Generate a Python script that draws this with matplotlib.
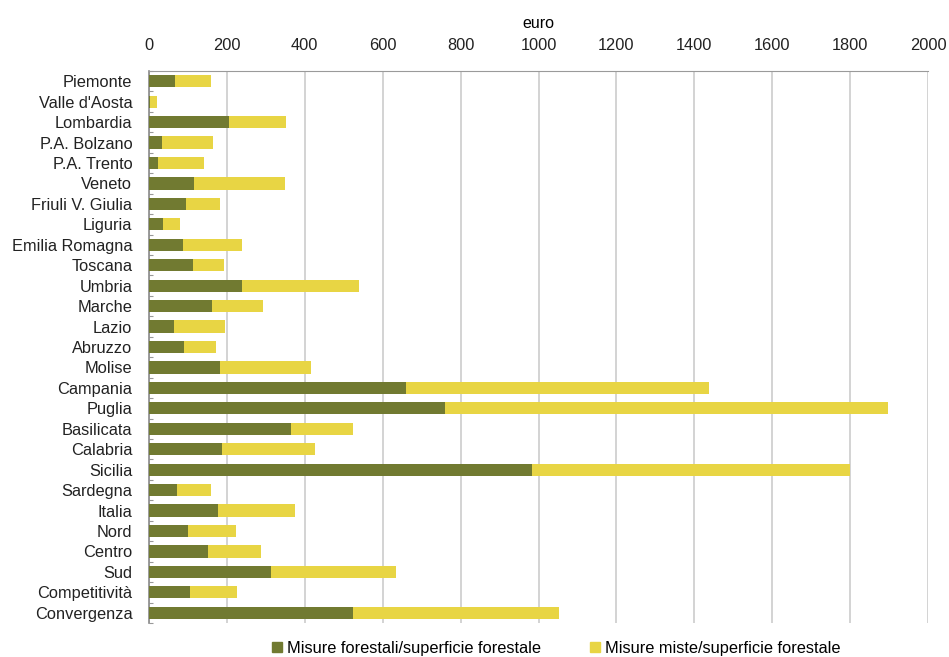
import numpy as np
import matplotlib
matplotlib.use("Agg")
import matplotlib.pyplot as plt
from matplotlib.patches import Patch

plt.rcParams["font.family"] = ["Liberation Sans", "DejaVu Sans"]

regioni = ["Piemonte", "Valle d'Aosta", "Lombardia", "P.A. Bolzano", "P.A. Trento",
           "Veneto", "Friuli V. Giulia", "Liguria", "Emilia Romagna", "Toscana",
           "Umbria", "Marche", "Lazio", "Abruzzo", "Molise", "Campania", "Puglia",
           "Basilicata", "Calabria", "Sicilia", "Sardegna", "Italia", "Nord",
           "Centro", "Sud", "Competitività", "Convergenza"]
# euro per ettaro di superficie forestale
forestali = [68, 2, 205, 34, 23, 115, 94, 37, 87, 112,
             239, 162, 64, 89, 182, 661, 759, 364, 188, 984,
             71, 177, 101, 152, 312, 105, 524]
totale = [158, 21, 351, 165, 140, 349, 182, 79, 239, 193,
          539, 293, 195, 172, 415, 1437, 1897, 524, 425, 1799,
          159, 374, 223, 287, 635, 226, 1053]
miste = [t - f for t, f in zip(totale, forestali)]

GREEN, YELLOW = "#717a31", "#e8d544"

fig = plt.figure(figsize=(9.49, 6.57), dpi=100)
ax = fig.add_axes([149 / 949, 1 - 623 / 657, (928 - 149) / 949, (623 - 71) / 657])

y = np.arange(len(regioni))
ax.barh(y, forestali, height=0.6, color=GREEN, zorder=3)
ax.barh(y, miste, left=forestali, height=0.6, color=YELLOW, zorder=3)

ax.set_xlim(0, 2000)
ax.set_ylim(len(regioni) - 0.5, -0.5)
ax.set_xticks(np.arange(0, 2001, 200))
ax.xaxis.tick_top()
ax.xaxis.set_label_position("top")
ax.set_xlabel("euro", fontsize=11.5, labelpad=7)
ax.tick_params(axis="x", length=0, pad=13, labelsize=11.8, colors="#222222")
ax.set_yticks(y)
ax.set_yticklabels(regioni)
ax.tick_params(axis="y", which="major", length=0, pad=12, labelsize=11.8, colors="#222222")
ax.set_yticks(np.arange(-0.5, len(regioni), 1), minor=True)
ax.tick_params(axis="y", which="minor", direction="in", length=3, width=0.8, color="#999999")

ax.grid(axis="x", color="#d3d3d3", linewidth=1.4, zorder=0)
for s in ["right", "bottom"]:
    ax.spines[s].set_visible(False)
ax.spines["top"].set_color("#9a9a9a")
ax.spines["left"].set_color("#8a8a8a")
ax.spines["left"].set_linewidth(1.2)

handles = [Patch(color=GREEN, label="Misure forestali/superficie forestale"),
           Patch(color=YELLOW, label="Misure miste/superficie forestale")]
fig.legend(handles=handles, loc="center", bbox_to_anchor=(556 / 949, 1 - 648 / 657),
           ncol=2, frameon=False, fontsize=11.8, handlelength=0.6, handleheight=0.6,
           handletextpad=0.3, columnspacing=3.0)

fig.savefig("out.png", dpi=100)
